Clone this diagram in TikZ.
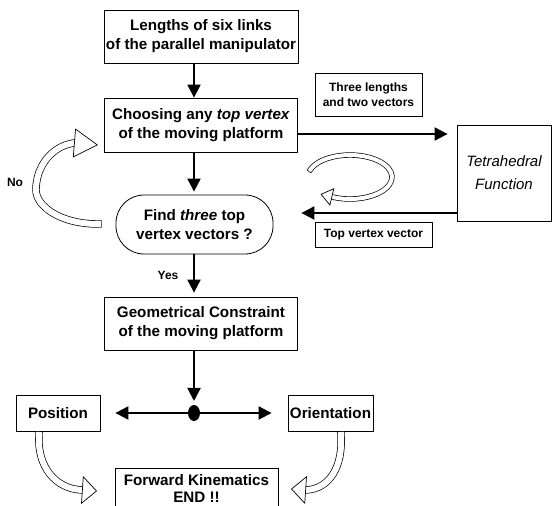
\documentclass[tikz,border=0pt]{standalone}
\usepackage{fontspec}
\setmainfont{Liberation Sans}
\usetikzlibrary{arrows.meta}

\begin{document}
\begin{tikzpicture}[x=1pt,y=1pt,
    box/.style={draw,line width=0.8pt,minimum width=193pt,minimum height=53pt,align=center,inner sep=2pt,font=\fontsize{15.2}{19}\selectfont\bfseries},
    tag/.style={draw,line width=0.6pt,align=center,inner sep=3pt,font=\fontsize{12}{15.5}\selectfont\bfseries},
    flow/.style={line width=2pt,-{Triangle[length=13pt,width=13pt]}},
    band/.style={draw,line width=0.7pt,double=white,double distance=6pt,line cap=rect},
    bandhead/.style 2 args={line width=0.7pt,-{Triangle[fill=white,length=#1pt,width=#2pt]}}]
    \useasboundingbox (0,0) rectangle (552,506);

    \node[box] (links) at (201,469.5) {Lengths of six links\\of the parallel manipulator};
    \node[box,minimum height=54pt] (choose) at (201,381) {Choosing any \textit{top vertex}\\of the moving platform};
    \node[box,rounded corners=28pt,minimum width=157pt,minimum height=59pt] (find) at (194.5,281.5) {Find \textit{three} top\\vertex vectors ?};
    \node[box] (geo) at (201,182.5) {Geometrical Constraint\\of the moving platform};
    \node[box,minimum width=84pt,minimum height=36pt] (pos) at (58,93) {Position};
    \node[box,minimum width=85pt,minimum height=36pt] (ori) at (330.5,93) {Orientation};
    \node[box,minimum width=163pt,minimum height=40pt,font=\fontsize{15.2}{17}\selectfont\bfseries] (fwd) at (196.5,18) {Forward Kinematics\\END !!};
    \node[box,minimum width=94pt,minimum height=96pt,font=\fontsize{15}{23}\selectfont\itshape] (tetra) at (504,333) {Tetrahedral\\Function};
    \node[tag,minimum width=107pt,minimum height=43pt] (three) at (368.5,411.5) {Three lengths\\and two vectors};
    \node[tag,minimum width=117pt,minimum height=25pt] (topv) at (373.5,271.5) {Top vertex vector};
    \node[font=\fontsize{12}{14}\selectfont\bfseries] (no) at (15,324) {No};
    \node[font=\fontsize{12}{14}\selectfont\bfseries] (yes) at (168,231) {Yes};

    \coordinate (spine) at (194,0);
    \coordinate (hub) at (194,93);
    \coordinate (toT) at (0,372);
    \coordinate (fromT) at (0,293);

    \draw[flow] (links.south -| spine) -- (choose.north -| spine);
    \draw[flow,shorten >=3pt] (choose.south -| spine) -- (find.north -| spine);
    \draw[flow,shorten >=4pt] (find.south -| spine) -- (geo.north -| spine);
    \draw[flow,shorten >=12pt] (geo.south -| spine) -- (hub);
    \draw[flow,{Triangle[length=13pt,width=13pt]}-{Triangle[length=13pt,width=13pt]},shorten <=15pt,shorten >=16pt] (pos) -- (ori);
    \fill (hub) ellipse[x radius=6,y radius=8];
    \draw[flow,shorten >=9pt] (choose.east |- toT) -- (tetra.west |- toT);
    \draw[flow,shorten >=28pt] (tetra.west |- fromT) -- (find.east |- fromT);

    \draw[band] (98,282) .. controls (60,282) and (36,300) .. (36,316) .. controls (36,340) and (52,360) .. (74,363) coordinate (noend);
    \draw[bandhead={24}{29}] (noend) -- ++(24,-2);
    \draw[band,double distance=4pt] (310.5,336.5) arc[start angle=160,end angle=-115,x radius=42,y radius=22] coordinate (loopend);
    \draw[bandhead={12}{18}] (loopend) -- ++(-11.7,2.8);
    \draw[band] (39,71) .. controls (37,40) and (55,17) .. (82,16) coordinate (posend);
    \draw[bandhead={15}{28}] (posend) -- ++(15,-1);
    \draw[band] (341,71) .. controls (343,40) and (330,17) .. (306,16) coordinate (oriend);
    \draw[bandhead={15}{28}] (oriend) -- ++(-15,1);
\end{tikzpicture}
\end{document}
